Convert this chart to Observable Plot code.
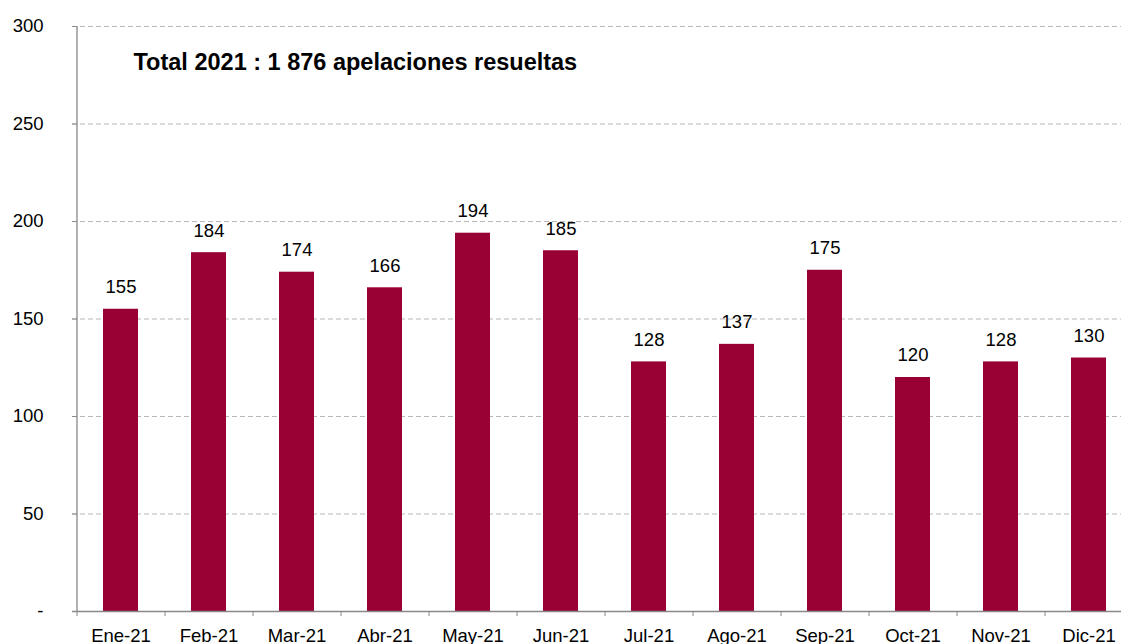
<!DOCTYPE html>
<html>
<head>
<meta charset="utf-8">
<script src="https://cdn.jsdelivr.net/npm/d3@7"></script>
<script src="https://cdn.jsdelivr.net/npm/@observablehq/plot@0.6"></script>
<style>
  html, body { margin: 0; padding: 0; background: white; overflow: hidden; }
</style>
</head>
<body>
<div id="chart"></div>
<script>
const months = ["Ene-21","Feb-21","Mar-21","Abr-21","May-21","Jun-21","Jul-21","Ago-21","Sep-21","Oct-21","Nov-21","Dic-21"];
const values = [155, 184, 174, 166, 194, 185, 128, 137, 175, 120, 128, 130];
const yTicks = [0, 50, 100, 150, 200, 250, 300];
const title = "Total 2021 : 1 876 apelaciones resueltas";

const data = months.map((m, i) => ({month: m, value: values[i]}));
const font = "'Liberation Sans', Arial, sans-serif";

const chart = Plot.plot({
  width: 1121,
  height: 644,
  marginLeft: 77,
  marginRight: 0,
  marginTop: 26,
  marginBottom: 33,
  style: {fontFamily: font, fontSize: "18.5px", background: "white", color: "black", overflow: "hidden"},
  x: {type: "band", domain: months, range: [77, 1133], paddingInner: 0.6, paddingOuter: 0.3, label: null},
  y: {domain: [0, 300], label: null},
  marks: [
    Plot.ruleY(yTicks.filter(d => d > 0), {y: d => d, stroke: "#b8b8b8", strokeWidth: 1.2, strokeDasharray: "5,3", insetLeft: -5}),
    Plot.barY(data, {x: "month", y: "value", fill: "#990033"}),
    Plot.text(data, {x: "month", y: "value", text: d => String(d.value), dy: -22, fill: "black", fontSize: 18.5}),
    Plot.ruleX([months[0]], {x: d => d, dx: -44, stroke: "#888", strokeWidth: 1.3}),
    Plot.ruleY([0], {y: d => d, stroke: "#888", strokeWidth: 1.3, insetLeft: -5}),
    Plot.axisY({ticks: yTicks, tickFormat: d => d === 0 ? "-" : String(d), tickSize: 5, tickPadding: 29, stroke: "#888", fill: "black", label: null, fontSize: 18.5}),
    Plot.axisX({tickSize: 5, text: null, dx: -44, stroke: "#888", label: null}),
    Plot.axisX({tickSize: 0, tickPadding: 17, fill: "black", label: null, fontSize: 18.5}),
    Plot.text([title], {frameAnchor: "top-left", textAnchor: "start", dx: 56, dy: 27, fontWeight: "bold", fontSize: 23.5, fill: "black"})
  ]
});
document.getElementById("chart").appendChild(chart);
</script>
</body>
</html>
